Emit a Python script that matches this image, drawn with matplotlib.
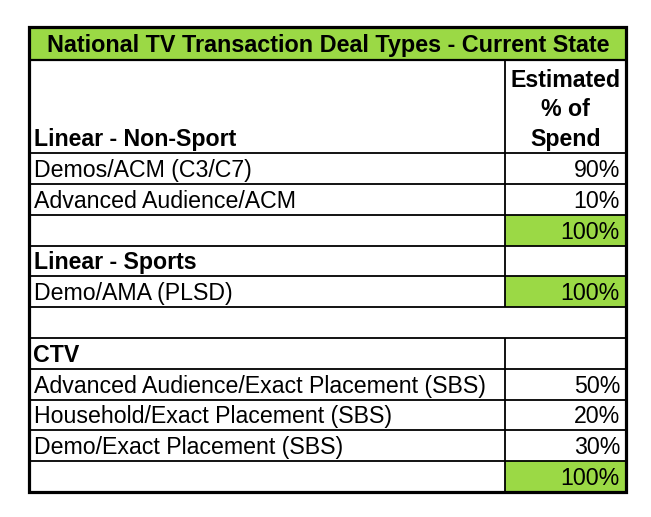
import matplotlib
matplotlib.use("Agg")
import matplotlib.pyplot as plt
from matplotlib.patches import Rectangle

# ---- data ----
title = "National TV Transaction Deal Types - Current State"
header_left = "Linear - Non-Sport"
header_right = ["Estimated", "% of", "Spend"]
labels = ["Demos/ACM (C3/C7)", "Advanced Audience/ACM", "", "Linear - Sports",
          "Demo/AMA (PLSD)", "", "CTV",
          "Advanced Audience/Exact Placement (SBS)",
          "Household/Exact Placement (SBS)", "Demo/Exact Placement (SBS)", ""]
values = ["90%", "10%", "100%", "", "100%", "", "", "50%", "20%", "30%", "100%"]
bold_rows = [False, False, False, True, False, False, True, False, False, False, False]
green_rows = [False, False, True, False, True, False, False, False, False, False, True]
merged_rows = [False, False, False, False, False, True, False, False, False, False, False]

GREEN = "#9BD945"
FONT = "Liberation Sans"
FS = 16.7

W, H = 651, 517
fig = plt.figure(figsize=(W / 100, H / 100), dpi=100)
ax = fig.add_axes([0, 0, 1, 1])
ax.set_xlim(0, W)
ax.set_ylim(H, 0)
ax.axis("off")

L, R, C = 28.5, 626, 505
T, TB, HB, B = 26.5, 59.5, 153.3, 492
n = len(labels)
rh = (B - HB) / n

# title
ax.add_patch(Rectangle((L, T), R - L, TB - T, facecolor=GREEN, edgecolor="none"))
ax.text((L + R) / 2 + 1, TB - 7.5, title, ha="center", va="baseline",
        fontsize=FS + 0.1, fontweight="bold", family=FONT)

# header
ax.text(L + 5, HB - 7.5, header_left, ha="left", va="baseline",
        fontsize=FS, fontweight="bold", family=FONT)
for i, t in enumerate(header_right):
    ax.text((C + R) / 2, HB - 7.5 - (len(header_right) - 1 - i) * 29.3, t,
            ha="center", va="baseline", fontsize=FS, fontweight="bold", family=FONT)

lw_in = 1.3
# rows
for i in range(n):
    top = HB + i * rh
    bot = top + rh
    if green_rows[i]:
        ax.add_patch(Rectangle((C, top), R - C, rh, facecolor=GREEN, edgecolor="none"))
    if labels[i]:
        ax.text(L + 5, bot - 7, labels[i], ha="left", va="baseline", fontsize=FS,
                fontweight="bold" if bold_rows[i] else "normal", family=FONT)
    if values[i]:
        ax.text(R - 6, bot - 7, values[i], ha="right", va="baseline", fontsize=FS,
                family=FONT)
    if not merged_rows[i]:
        ax.plot([C, C], [top, bot], color="black", lw=lw_in, solid_capstyle="butt")
    ax.plot([L, R], [top, top], color="black", lw=lw_in, solid_capstyle="butt")

# header divider
ax.plot([C, C], [TB, HB], color="black", lw=lw_in, solid_capstyle="butt")
ax.plot([L, R], [TB, TB], color="black", lw=1.6, solid_capstyle="butt")

# outer border
ax.add_patch(Rectangle((L, T), R - L, B - T, facecolor="none", edgecolor="black", lw=2.3))

fig.savefig("out.png", dpi=100)
